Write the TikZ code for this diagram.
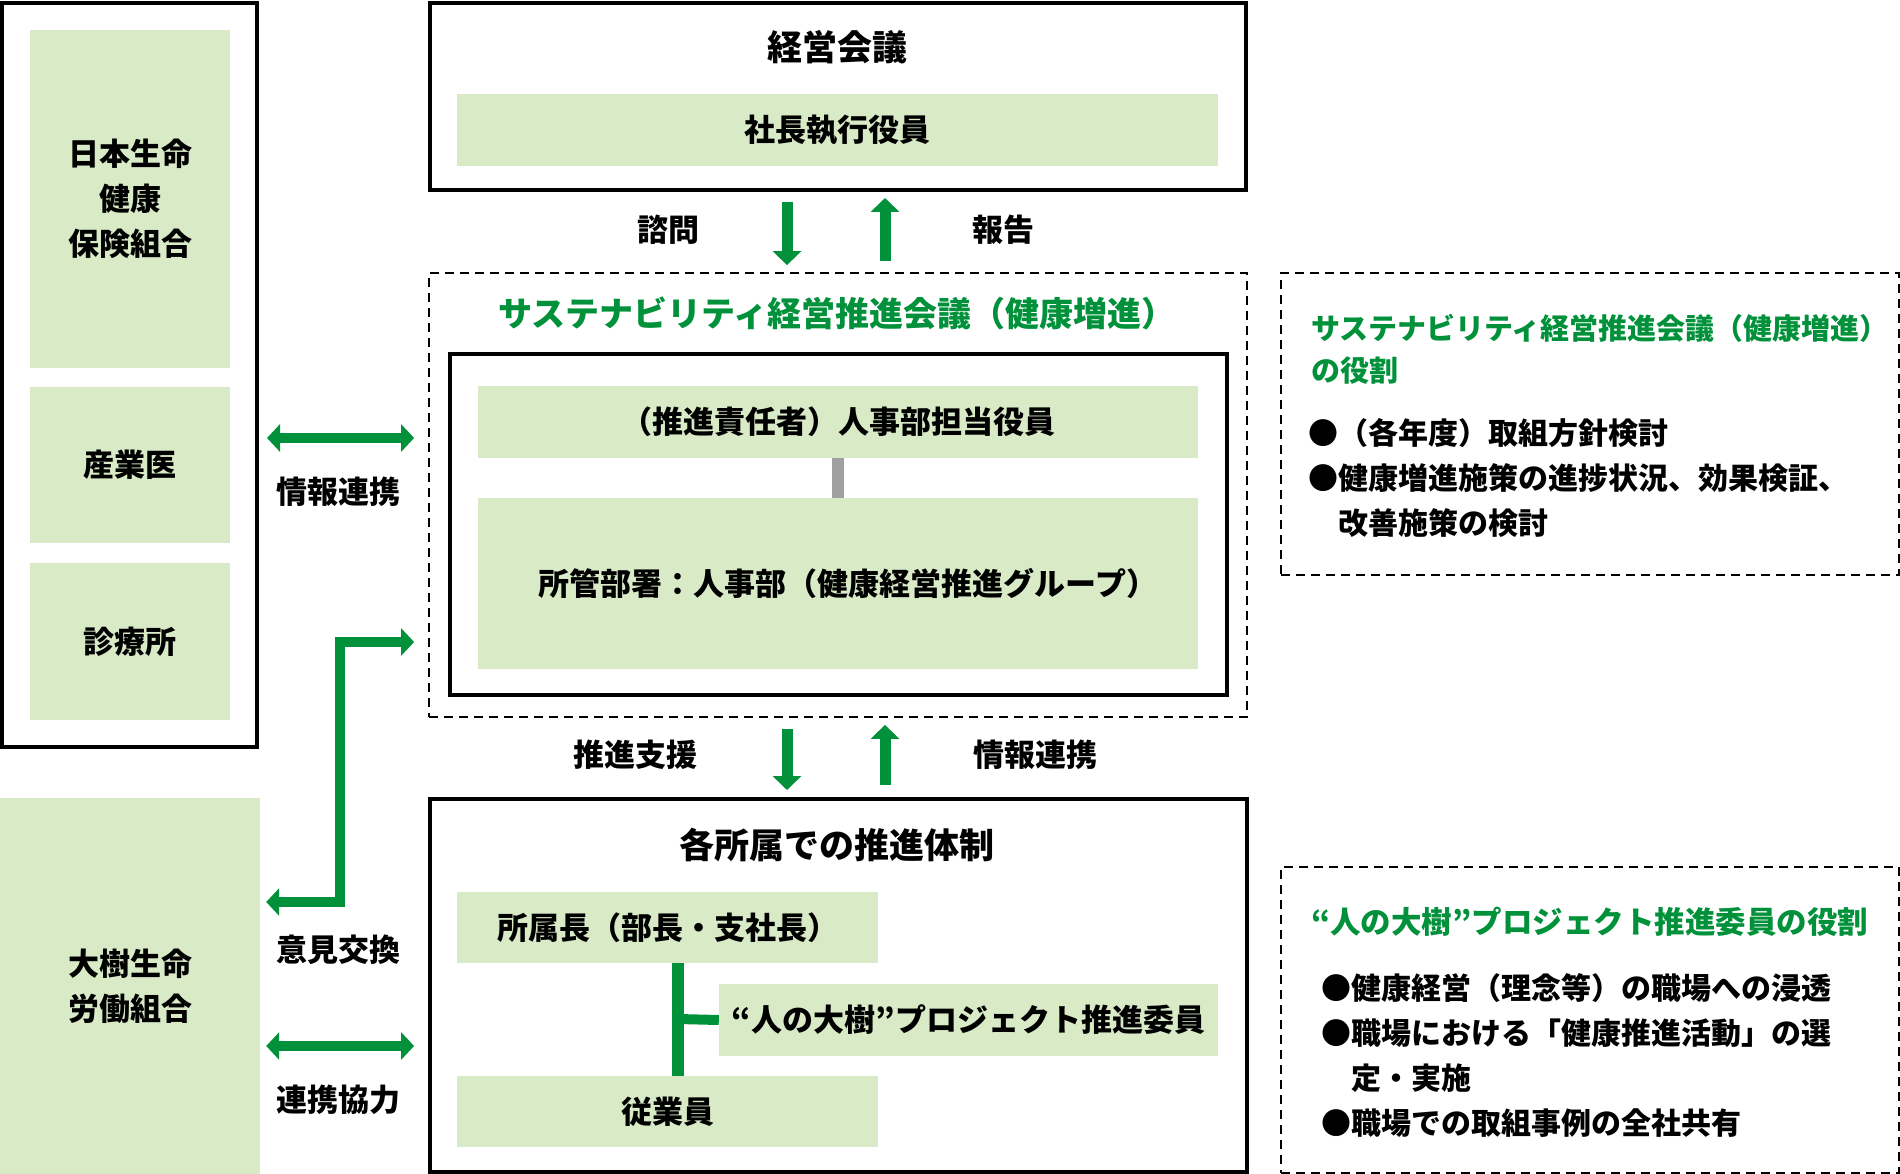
\documentclass[tikz,border=0pt]{standalone}
\usepackage{fontspec}
\setmainfont{Noto Sans CJK JP}
\usetikzlibrary{arrows.meta}
\definecolor{leaf}{HTML}{D9EAC7}
\definecolor{deepgreen}{HTML}{00913A}
\definecolor{linkgray}{HTML}{A0A0A0}
\newcommand{\titlefont}{\fontsize{35}{45}\selectfont\bfseries}
\newcommand{\boxfont}{\fontsize{31}{45}\selectfont\bfseries}
\newcommand{\notefont}{\fontsize{29}{42}\selectfont\bfseries}
\newcommand{\itemfont}{\fontsize{30}{45}\selectfont\bfseries}

\tikzset{
  frame/.style={draw, line width=4pt, inner sep=0pt},
  dashframe/.style={draw, line width=1.8pt, dash pattern=on 9pt off 6pt, inner sep=0pt},
  leafbox/.style={fill=leaf, inner sep=0pt, align=center, font=\boxfont},
  caption/.style={font=\boxfont, inner sep=0pt},
  flow/.style={draw=deepgreen, line width=11pt, -{Triangle[width=28pt,length=14pt]}},
  twoway/.style={draw=deepgreen, line width=10pt,
    {Triangle[width=27pt,length=13pt]}-{Triangle[width=27pt,length=13pt]}},
}

\begin{document}
\begin{tikzpicture}[x=1pt,y=-1pt]
    \useasboundingbox (0,0) rectangle (1900,1174);

    % Draw frames
    \node[frame, minimum width=255pt, minimum height=744pt] (partners) at (129.5,375) {};
    \node[frame, minimum width=816pt, minimum height=187pt] (keiei) at (838,96.5) {};
    \node[dashframe, minimum width=818pt, minimum height=444pt] (sus) at (838,495) {};
    \node[frame, minimum width=777pt, minimum height=341pt] (susinner) at (838.5,524.5) {};
    \node[frame, minimum width=817pt, minimum height=373pt] (shozokuframe) at (838.5,985.5) {};
    \node[dashframe, minimum width=618pt, minimum height=302pt] (susrole) at (1590,424) {};
    \node[dashframe, minimum width=618pt, minimum height=306pt] (iinrole) at (1590,1020) {};

    % Draw left boxes
    \node[leafbox, minimum width=200pt, minimum height=338pt] (kenpo) at (130,199) {日本生命\\健康\\保険組合};
    \node[leafbox, minimum width=200pt, minimum height=156pt] (sangyoi) at (130,465) {産業医};
    \node[leafbox, minimum width=200pt, minimum height=157pt] (shinryo) at (130,641.5) {診療所};
    \node[leafbox, minimum width=260pt, minimum height=376pt] (union) at (130,986) {大樹生命\\労働組合};

    % Draw titles and boxes of the centre column
    \node[caption, font=\titlefont] (keieititle) at (837,47) {経営会議};
    \node[leafbox, minimum width=761pt, minimum height=72pt] (shacho) at (837.5,130) {社長執行役員};
    \node[caption, font=\fontsize{34}{45}\selectfont\bfseries, text=deepgreen] (sustitle) at (837,313)
      {サステナビリティ経営推進会議（健康増進）};
    \node[leafbox, minimum width=720pt, minimum height=72pt] (sekinin) at (838,422) {（推進責任者）人事部担当役員};
    \node[leafbox, minimum width=720pt, minimum height=171pt] (shokan) at (838,583.5) {\hspace*{20pt}所管部署：人事部（健康経営推進グループ）};
    \node[caption, font=\titlefont] (shozokutitle) at (837,845) {各所属での推進体制};
    \node[leafbox, minimum width=421pt, minimum height=71pt] (shozoku) at (667.5,927.5) {所属長（部長・支社長）};
    \node[leafbox, minimum width=499pt, minimum height=72pt] (iin) at (968.5,1020) {“人の大樹”プロジェクト推進委員};
    \node[leafbox, minimum width=421pt, minimum height=71pt] (jugyo) at (667.5,1111.5) {従業員};

    % Draw links inside boxes
    \draw[linkgray, line width=11.5pt] (sekinin.south) -- (shokan.north);
    \coordinate (branch) at (678,1019);
    \draw[deepgreen, line width=12pt] (shozoku.south -| branch) -- (jugyo.north -| branch);
    \draw[deepgreen, line width=10pt] (branch) -- (iin.west);

    % Draw arrows between the levels
    \coordinate (downcol) at (787,0);
    \coordinate (upcol) at (885,0);
    \draw[flow, shorten <=10pt, shorten >=7pt] (keiei.south -| downcol) -- (sus.north -| downcol);
    \draw[flow, shorten <=11pt, shorten >=6pt] (sus.north -| upcol) -- (keiei.south -| upcol);
    \draw[flow, shorten <=11pt, shorten >=7pt] (sus.south -| downcol) -- (shozokuframe.north -| downcol);
    \draw[flow, shorten <=12pt, shorten >=7pt] (shozokuframe.north -| upcol) -- (sus.south -| upcol);
    \node[caption] (shimon) at (668,230) {諮問};
    \node[caption] (hokoku) at (1003,230) {報告};
    \node[caption] (shien) at (635,755) {推進支援};
    \node[caption] (renkei) at (1035,755) {情報連携};

    % Draw arrows to the left column
    \coordinate (inforow) at (0,438);
    \coordinate (corner) at (340,642);
    \coordinate (kyoryokurow) at (0,1046);
    \draw[twoway, shorten <=8pt, shorten >=14pt] (partners.east |- inforow) -- (sus.west |- inforow);
    \draw[twoway, shorten <=6pt, shorten >=14pt] (union.east |- 0,902) -- (corner |- 0,902) -- (corner) -- (sus.west |- corner);
    \draw[twoway, shorten <=6pt, shorten >=14pt] (union.east |- kyoryokurow) -- (sus.west |- kyoryokurow);
    \node[caption] (jouho) at (338,492) {情報連携};
    \node[caption] (iken) at (338,950) {意見交換};
    \node[caption] (kyoryoku) at (338,1100) {連携協力};

    % Draw notes on the right
    \node[anchor=west, align=left, inner sep=0pt, font=\notefont, text=deepgreen] (susroletitle) at (1311,349)
      {サステナビリティ経営推進会議（健康増進）\\の役割};
    \node[anchor=west, align=left, inner sep=0pt, font=\itemfont] (susroleitems) at (1308,478)
      {●（各年度）取組方針検討\\●健康増進施策の進捗状況、効果検証、\\\hspace*{1em}改善施策の検討};
    \node[anchor=west, inner sep=0pt, font=\fontsize{30.5}{42}\selectfont\bfseries, text=deepgreen] (iinroletitle) at (1311,922)
      {“人の大樹”プロジェクト推進委員の役割};
    \node[anchor=west, align=left, inner sep=0pt, font=\itemfont] (iinroleitems) at (1321,1055)
      {●健康経営（理念等）の職場への浸透\\●職場における「健康推進活動」の選\\\hspace*{1em}定・実施\\●職場での取組事例の全社共有};
\end{tikzpicture}
\end{document}
